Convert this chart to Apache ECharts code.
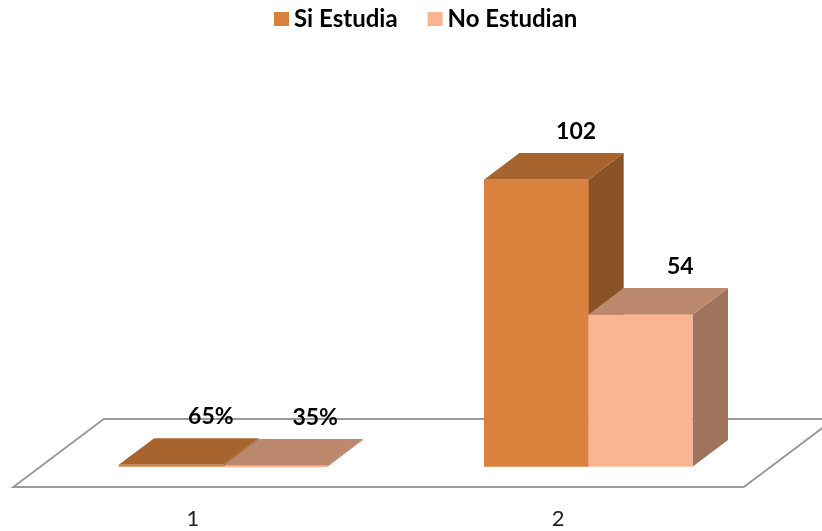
<!DOCTYPE html>
<html>
<head>
<meta charset="utf-8">
<script src="https://cdn.jsdelivr.net/npm/echarts@6/dist/echarts.min.js"></script>
<style>
  html, body { margin: 0; padding: 0; background: #fff; }
  #main { width: 822px; height: 531px; }
</style>
</head>
<body>
<div id="main"></div>
<script>
var categories = ['1', '2'];
var siEstudia = [0.65, 102];
var noEstudian = [0.35, 54];
var seriesNames = ['Si Estudia', 'No Estudian'];

// colores de cada cara: frente, techo, lateral
var siColors = ['#D9823D', '#A8642F', '#8A5327'];
var noColors = ['#F9B590', '#BC896E', '#9E755C'];

var DX = 35.5, DY = -26.7;   // profundidad de barra
var BAR_RATIO = 0.2856;

var myChart = echarts.init(document.getElementById('main'));

function fmtLabel(v) {
    return v < 1 ? Math.round(v * 100) + '%' : String(v);
}

function barRenderer(colors, side) {
    return function (params, api) {
        var cat = api.value(0), val = api.value(1);
        var base = api.coord([cat, 0]);
        var top = api.coord([cat, val]);
        var band = api.size([1, 0])[0];
        var w = band * BAR_RATIO;
        var x0 = side === 0 ? base[0] - w : base[0];
        var x1 = x0 + w;
        var y0 = base[1], y1 = top[1];
        return {
            type: 'group',
            children: [
                {
                    type: 'polygon',
                    shape: { points: [[x1, y1], [x1 + DX, y1 + DY], [x1 + DX, y0 + DY], [x1, y0]] },
                    style: { fill: colors[2] }
                },
                {
                    type: 'polygon',
                    shape: { points: [[x0, y1], [x0 + DX, y1 + DY], [x1 + DX, y1 + DY], [x1, y1]] },
                    style: { fill: colors[1] }
                },
                {
                    type: 'rect',
                    shape: { x: x0, y: y1, width: w, height: Math.max(y0 - y1, 1.5) },
                    style: { fill: colors[0] }
                },
                {
                    type: 'text',
                    style: {
                        text: fmtLabel(val),
                        x: (x0 + x1) / 2 + 40,
                        y: y1 - 48.5,
                        fill: '#000',
                        font: 'bold 23px Lato',
                        align: 'center',
                        verticalAlign: 'middle'
                    }
                }
            ]
        };
    };
}

// piso en perspectiva
function floorRenderer(params, api) {
    var cs = params.coordSys;
    var yb = cs.y + cs.height;
    var fx = -27, fy = 20.3, bx = 63.4, by = -47.7;
    var l = cs.x, r = cs.x + cs.width;
    return {
        type: 'polygon',
        shape: { points: [[l + fx, yb + fy], [r + fx, yb + fy], [r + bx, yb + by], [l + bx, yb + by]] },
        style: { fill: '#fff', stroke: '#9a9a9a', lineWidth: 2 }
    };
}

var option = {
    backgroundColor: '#fff',
    animation: false,
    legend: {
        top: 7,
        left: 274,
        padding: 0,
        icon: 'rect',
        itemWidth: 15,
        itemHeight: 14,
        itemGap: 30,
        data: seriesNames,
        textStyle: { fontFamily: 'Lato', fontWeight: 'bold', fontSize: 24, color: '#000' }
    },
    grid: { left: 40.4, right: 51.2, top: 129, bottom: 64.3 },
    xAxis: {
        type: 'category',
        data: categories,
        axisLine: { show: false },
        axisTick: { show: false },
        axisLabel: {
            margin: 41,
            padding: [0, 60, 0, 0],
            fontFamily: 'Lato',
            fontSize: 22,
            color: '#222'
        }
    },
    yAxis: {
        type: 'value',
        min: 0,
        max: 120,
        show: false
    },
    series: [
        {
            type: 'custom',
            name: 'piso',
            silent: true,
            renderItem: floorRenderer,
            data: [[0, 0]],
            z: 1
        },
        {
            type: 'custom',
            name: seriesNames[0],
            itemStyle: { color: siColors[0] },
            renderItem: barRenderer(siColors, 0),
            encode: { x: 0, y: 1 },
            data: categories.map(function (c, i) { return [i, siEstudia[i]]; }),
            z: 2
        },
        {
            type: 'custom',
            name: seriesNames[1],
            itemStyle: { color: noColors[0] },
            renderItem: barRenderer(noColors, 1),
            encode: { x: 0, y: 1 },
            data: categories.map(function (c, i) { return [i, noEstudian[i]]; }),
            z: 3
        }
    ]
};

myChart.setOption(option);
</script>
</body>
</html>
